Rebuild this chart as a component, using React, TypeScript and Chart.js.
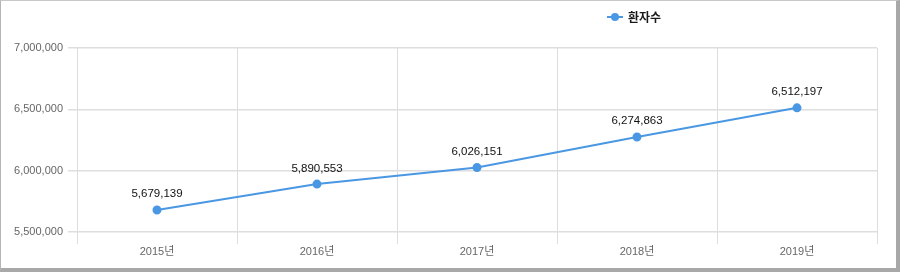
import React, { useEffect, useRef } from "react";
import { Chart, registerables } from "chart.js";

Chart.register(...registerables);

const categories = ["2015년", "2016년", "2017년", "2018년", "2019년"];
const patients = [5679139, 5890553, 6026151, 6274863, 6512197];
const seriesName = "환자수";
const yMin = 5500000;
const yMax = 7000000;
const yStep = 500000;

const LINE_COLOR = "#4a97e3";
const FONT = "'Liberation Sans', Arial, 'Noto Sans CJK KR', sans-serif";

const fmt = (v: number) => v.toLocaleString("en-US");

const labelPlugin = {
  id: "valueLabels",
  afterDatasetsDraw(chart: any) {
    const ctx = chart.ctx;
    const meta = chart.getDatasetMeta(0);
    ctx.save();
    ctx.font = `11.5px ${FONT}`;
    ctx.fillStyle = "#111";
    ctx.textAlign = "center";
    ctx.textBaseline = "bottom";
    meta.data.forEach((pt: any, i: number) => {
      const v = chart.data.datasets[0].data[i] as number;
      ctx.fillText(fmt(v), pt.x, pt.y - 10);
    });
    // legend
    const lx = 606;
    const ly = 16;
    ctx.strokeStyle = LINE_COLOR;
    ctx.lineWidth = 2;
    ctx.beginPath();
    ctx.moveTo(lx, ly);
    ctx.lineTo(lx + 16, ly);
    ctx.stroke();
    ctx.fillStyle = LINE_COLOR;
    ctx.beginPath();
    ctx.arc(lx + 8, ly, 4, 0, Math.PI * 2);
    ctx.fill();
    ctx.fillStyle = "#1a1a1a";
    ctx.font = `bold 12px 'Noto Sans CJK KR', sans-serif`;
    ctx.textAlign = "left";
    ctx.textBaseline = "middle";
    ctx.fillText(chart.data.datasets[0].label, lx + 21, ly);
    ctx.restore();
  },
};

export default function App() {
  const ref = useRef<HTMLCanvasElement | null>(null);
  useEffect(() => {
    document.body.style.margin = "0";
    const chart = new Chart(ref.current as HTMLCanvasElement, {
      type: "line",
      data: {
        labels: categories,
        datasets: [
          {
            label: seriesName,
            data: patients,
            borderColor: LINE_COLOR,
            backgroundColor: LINE_COLOR,
            borderWidth: 2,
            pointRadius: 3.5,
            pointHoverRadius: 3.5,
            tension: 0,
          },
        ],
      },
      options: {
        animation: false,
        responsive: false,
        layout: { padding: { left: 0, right: 19, top: 47, bottom: 0 } },
        plugins: { legend: { display: false }, tooltip: { enabled: false } },
        scales: {
          x: {
            offset: true,
            grid: { offset: true, color: "#dadde6", tickLength: 12, drawTicks: true },
            border: { display: false },
            ticks: { color: "#666", font: { size: 11, family: FONT }, padding: 1 },
            afterFit: (s: any) => {
              s.height = 36;
            },
          },
          y: {
            min: yMin,
            max: yMax,
            grid: { color: "#dedede", tickLength: 9, lineWidth: 1.5 },
            border: { display: false },
            ticks: {
              stepSize: yStep,
              color: "#666",
              font: { size: 11, family: FONT },
              padding: 5,
              callback: (v: any) => fmt(Number(v)),
            },
            afterFit: (s: any) => {
              s.width = 76;
            },
          },
        },
      },
      plugins: [labelPlugin],
    });
    return () => chart.destroy();
  }, []);
  return (
    <div
      style={{
        position: "fixed",
        left: 0,
        top: 0,
        width: 900,
        height: 272,
        boxSizing: "border-box",
        borderLeft: "1px solid #b5b5b5",
        borderTop: "1px solid #c8c8c8",
        borderRight: "4px solid #a8a8a8",
        borderBottom: "4px solid #a8a8a8",
        background: "#fff",
      }}
    >
      <canvas ref={ref} width={895} height={267} style={{ display: "block" }} />
    </div>
  );
}
